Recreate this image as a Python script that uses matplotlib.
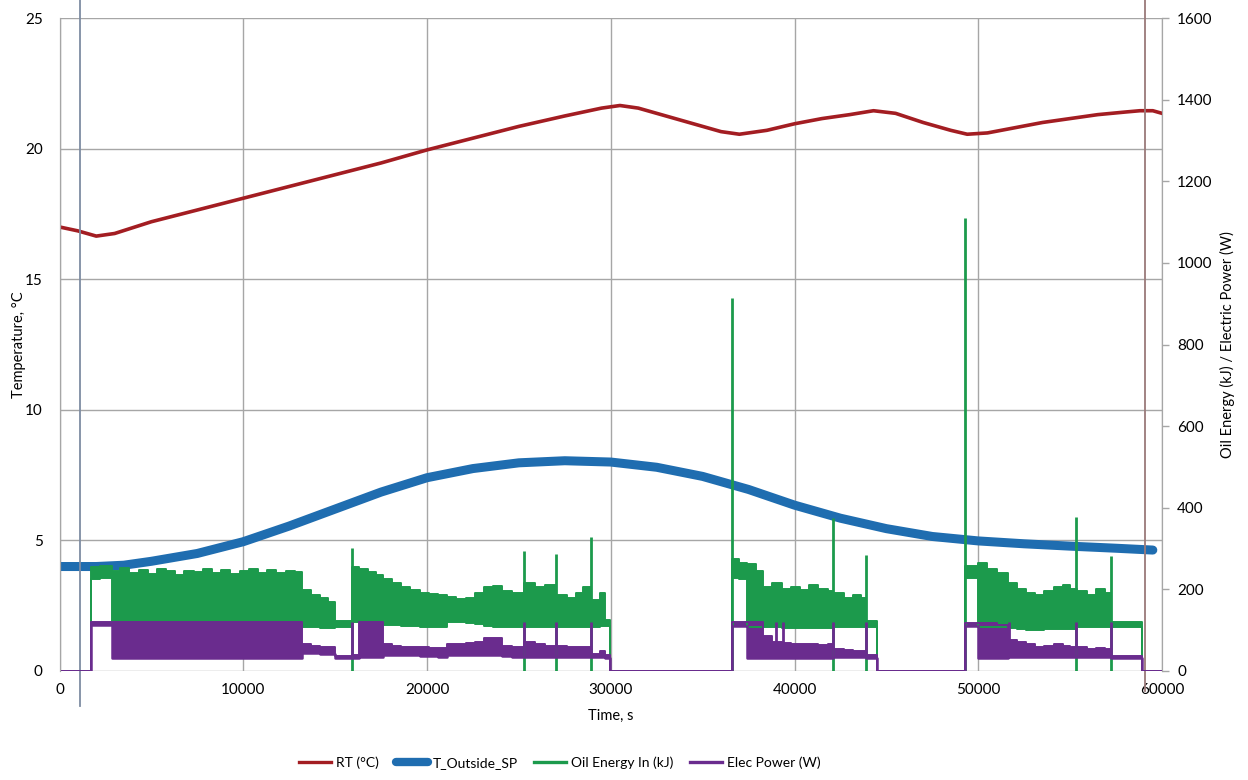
import matplotlib
matplotlib.use("Agg")
import matplotlib.pyplot as plt
from matplotlib.lines import Line2D

plt.rcParams['font.family'] = ['Lato', 'DejaVu Sans']

# ─── temperatures (left axis, °C) ───────────────────────────────────
rt_t = [0, 1000, 2000, 3000, 5000, 7500, 10000, 12500, 15000, 17500, 20000,
        22500, 25000, 27500, 29500, 30500, 31500, 33000, 34500, 36000, 37000,
        38500, 40000, 41500, 43000, 44300, 45500, 47000, 48500, 49400, 50500,
        52000, 53500, 55000, 56500, 58000, 58800, 59500, 60000]
rt_val = [17.0, 16.85, 16.65, 16.75, 17.2, 17.65, 18.1, 18.55, 19.0, 19.45, 19.95,
          20.4, 20.85, 21.25, 21.55, 21.65, 21.55, 21.25, 20.95, 20.65, 20.55,
          20.7, 20.95, 21.15, 21.3, 21.45, 21.35, 21.0, 20.7, 20.55, 20.6,
          20.8, 21.0, 21.15, 21.3, 21.4, 21.45, 21.45, 21.35]

tout_t = [0, 2000, 3500, 5000, 7500, 10000, 12500, 15000, 17500, 20000, 22500,
          25000, 27500, 30000, 32500, 35000, 37500, 40000, 42500, 45000, 47500,
          50000, 52500, 55000, 57500, 59500]
tout_val = [4.0, 4.0, 4.05, 4.2, 4.5, 4.95, 5.55, 6.2, 6.85, 7.4, 7.75,
            7.97, 8.05, 8.0, 7.8, 7.45, 6.95, 6.35, 5.85, 5.45, 5.15,
            4.98, 4.87, 4.78, 4.7, 4.63]

# ─── oil energy / electric power (right axis) ───────────────────────
# the signals chatter fast, so they are kept as low/high envelopes per interval
band_t = [0, 1740, 2200, 2830, 3300, 3800, 4300, 4800, 5300, 5800, 6300, 6800,
          7300, 7800, 8300, 8800, 9300, 9800, 10300, 10800, 11300, 11800, 12300,
          12800, 13200, 13700, 14200, 14600, 15000, 15900, 16300, 16800, 17200,
          17600, 18100, 18600, 19100, 19600, 20100, 20600, 21100, 21600, 22100,
          22600, 23100, 23600, 24100, 24600, 25300, 25900, 26400, 27000, 27600,
          28100, 28500, 28900, 29400, 29700, 29950, 36600, 37000, 37400, 37900,
          38300, 38800, 39300, 39800, 40300, 40800, 41300, 41800, 42100, 42700,
          43200, 43600, 43900, 44500, 49300, 50000, 50500, 51000, 51600, 52100,
          52600, 53100, 53600, 54100, 54600, 55000, 55400, 55900, 56400, 56900,
          57200, 58900, 60000]
oil_lo = [0, 225, 228, 120, 120, 120, 120, 120, 120, 120, 120, 120,
          120, 120, 120, 120, 120, 120, 120, 120, 120, 120, 120,
          120, 108, 108, 106, 105, 108, 120, 120, 120, 120,
          112, 112, 110, 110, 108, 108, 108, 120, 120, 118,
          115, 110, 108, 108, 108, 108, 108, 108, 108, 108,
          108, 108, 108, 110, 110, 0, 228, 225, 108, 108,
          108, 108, 106, 106, 106, 106, 106, 106, 108, 108,
          108, 108, 108, 0, 228, 108, 108, 108, 105, 102,
          100, 100, 102, 102, 102, 104, 108, 108, 108, 108,
          108, 0, 0]
oil_hi = [0, 255, 258, 245, 252, 240, 248, 238, 250, 244, 236, 246,
          242, 250, 240, 247, 238, 244, 250, 241, 247, 239, 245,
          243, 198, 185, 180, 170, 122, 255, 250, 242, 235,
          225, 215, 205, 198, 192, 188, 185, 182, 176, 180,
          190, 205, 208, 195, 190, 215, 205, 210, 185, 180,
          190, 205, 175, 190, 125, 0, 275, 265, 262, 245,
          205, 215, 200, 205, 198, 210, 200, 195, 190, 180,
          185, 178, 122, 0, 258, 265, 250, 240, 215, 200,
          190, 185, 195, 205, 210, 200, 195, 185, 200, 190,
          120, 0, 0]
elec_lo = [0, 112, 113, 32, 32, 32, 32, 32, 32, 32, 32, 32,
           32, 32, 32, 32, 32, 32, 32, 32, 32, 32, 32,
           32, 45, 45, 42, 42, 32, 32, 35, 35, 35,
           40, 40, 38, 38, 36, 36, 35, 38, 38, 38,
           38, 40, 40, 36, 35, 35, 35, 35, 35, 35,
           35, 35, 35, 35, 33, 0, 110, 110, 32, 32,
           32, 32, 32, 32, 32, 32, 32, 32, 35, 35,
           35, 35, 33, 0, 110, 32, 32, 32, 35, 35,
           35, 35, 35, 35, 35, 35, 35, 35, 35, 35,
           33, 0, 0]
elec_hi = [0, 120, 120, 120, 120, 120, 120, 120, 120, 120, 120, 120,
           120, 120, 120, 120, 120, 120, 120, 120, 120, 120, 120,
           120, 65, 62, 58, 58, 36, 40, 120, 120, 120,
           65, 62, 60, 60, 58, 56, 56, 65, 66, 68,
           70, 80, 82, 62, 60, 72, 65, 62, 62, 60,
           60, 58, 42, 50, 40, 0, 120, 120, 120, 120,
           85, 70, 68, 66, 65, 66, 64, 65, 55, 52,
           50, 50, 38, 0, 118, 118, 118, 112, 75, 70,
           65, 60, 62, 66, 62, 60, 58, 55, 56, 55,
           37, 0, 0]

# oil spikes (signal drops to 0, then jumps) and elec jumps to full power
spike_t = [15900, 25300, 27000, 28900, 36600, 42100, 43900, 49300, 55300, 57200]
spike_top = [301, 294, 287, 328, 914, 375, 284, 1110, 377, 282]
elec_jump_t = [15900, 25300, 27000, 28900, 39000, 39400, 42100, 43900, 51700, 55300, 57200]

marker_t = [1100, 59050]

RED = "#a31d22"
BLUE = "#1f6db0"
GREEN = "#1c9a4c"
PURPLE = "#6a2c8e"
GRID = "#a6a6a6"
FS = 10.5

fig = plt.figure(figsize=(12.48, 7.8), dpi=100)
ax = fig.add_axes([59.5 / 1248, 1 - 671 / 780, 1102.5 / 1248, 653 / 780])
ax2 = ax.twinx()

# left axis: temperatures + grid
ax.set_xlim(0, 60000)
ax.set_ylim(0, 25)
ax.set_yticks([0, 5, 10, 15, 20, 25])
ax.set_xticks(range(0, 60001, 10000))
ax.grid(True, color=GRID, linewidth=1.0)
ax.set_axisbelow(True)
ax.plot(rt_t, rt_val, color=RED, linewidth=2.6)
ax.plot(tout_t, tout_val, color=BLUE, linewidth=6.5, solid_capstyle="round")

# marker lines running past the plot area
ax.axvline(marker_t[0], ymin=-0.054, ymax=1.03, color="#7e8ca3", linewidth=1.3, clip_on=False)
ax.axvline(marker_t[1], ymin=-0.03, ymax=1.03, color="#9a7a7a", linewidth=1.3, clip_on=False)

# right axis: oil energy and electric power
ax2.set_ylim(0, 1600)
ax2.set_yticks(range(0, 1601, 200))
ax2.fill_between(band_t, oil_lo, oil_hi, step="post", color=GREEN, linewidth=0)
ax2.plot(band_t, oil_lo, drawstyle="steps-post", color=GREEN, linewidth=1.4)
ax2.plot(band_t, oil_hi, drawstyle="steps-post", color=GREEN, linewidth=1.4)
ax2.vlines(spike_t, 0, spike_top, color=GREEN, linewidth=2.0)
ax2.fill_between(band_t, elec_lo, elec_hi, step="post", color=PURPLE, linewidth=0)
ax2.plot(band_t, elec_lo, drawstyle="steps-post", color=PURPLE, linewidth=1.8)
ax2.plot(band_t, elec_hi, drawstyle="steps-post", color=PURPLE, linewidth=1.4)
ax2.vlines(elec_jump_t, 35, 120, color=PURPLE, linewidth=2.0)

# spines / ticks
for a in (ax, ax2):
    for s in a.spines.values():
        s.set_color(GRID)
    a.spines["top"].set_visible(False)
    a.spines["bottom"].set_visible(False)
ax.tick_params(axis="y", length=0, pad=12, labelsize=FS + 0.5)
ax.tick_params(axis="x", length=0, pad=9, labelsize=FS + 0.5)
ax2.tick_params(axis="y", length=5, width=1, color=GRID, pad=6, labelsize=FS + 0.5)

ax.set_xlabel("Time, s", fontsize=FS, labelpad=8)
ax.set_ylabel("Temperature, °C", fontsize=FS, labelpad=-1)
ax2.set_ylabel("Oil Energy (kJ) / Electric Power (W)", fontsize=FS, labelpad=5)

handles = [
    Line2D([], [], color=RED, linewidth=2.4, label="RT (°C)"),
    Line2D([], [], color=BLUE, linewidth=6.0, solid_capstyle="round", label="T_Outside_SP"),
    Line2D([], [], color=GREEN, linewidth=2.4, label="Oil Energy In (kJ)"),
    Line2D([], [], color=PURPLE, linewidth=2.4, label="Elec Power (W)"),
]
fig.legend(handles=handles, loc="center",
           bbox_to_anchor=(560 / 1248, 1 - 763 / 780), ncol=4, frameon=False,
           fontsize=FS - 0.5, handlelength=2.3, handletextpad=0.35, columnspacing=1.2)

fig.savefig("out.png", dpi=100, facecolor="white")
